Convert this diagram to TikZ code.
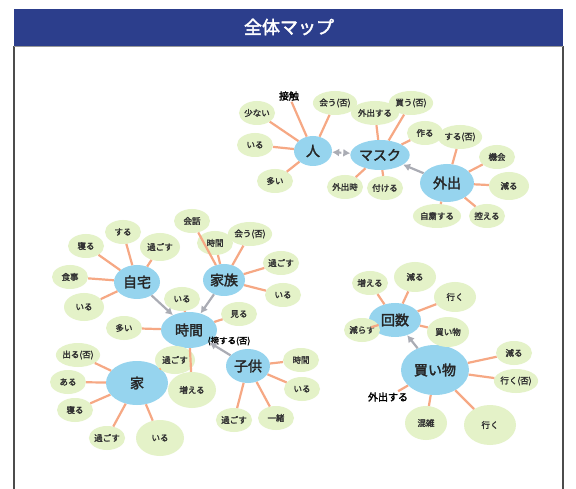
\documentclass[tikz,border=0pt]{standalone}
\usepackage{fontspec}
\setmainfont{Noto Sans CJK JP}[AutoFakeBold=2.2]
\usetikzlibrary{shapes.geometric,arrows.meta}
\definecolor{hubc}{RGB}{150,212,238}
\definecolor{leafc}{RGB}{228,242,200}
\definecolor{edgec}{RGB}{246,168,132}
\definecolor{arrc}{RGB}{170,172,180}
\definecolor{hdrc}{RGB}{44,62,140}
\tikzset{
 hubnode/.style={ellipse,fill=hubc,inner sep=0pt,text=black!85,font=\bfseries\fontsize{14}{14}\selectfont},
 leafnode/.style={ellipse,fill=leafc,inner sep=0pt,minimum width=36,minimum height=24,text=black!80,font=\bfseries\fontsize{8.5}{8.5}\selectfont},
 plainnode/.style={inner sep=1pt,font=\bfseries\fontsize{10}{10}\selectfont},
 link/.style={draw=edgec,line width=2.2},
 rel/.style={draw=arrc,line width=2.2,-{Latex[length=7,width=8]}},
}
\begin{document}
\begin{tikzpicture}[x=1pt,y=-1pt]
\useasboundingbox (0,0) rectangle (576,489);
\fill[white] (0,0) rectangle (576,489);
% frame
\fill[hdrc] (14,9) rectangle (563,46);
\node[text=white,font=\bfseries\fontsize{18}{18}\selectfont] (title) at (289,27) {全体マップ};
\draw[black!70,line width=1.2] (14,46) -- (14,489) (563,46) -- (563,489);
\draw[black!40,line width=0.6] (14,46) -- (563,46);

% hubs
\node[hubnode,minimum width=38,minimum height=30] (hito) at (313,151) {人};
\node[hubnode,minimum width=52,minimum height=30] (mask) at (380,155) {マスク};
\node[hubnode,minimum width=54,minimum height=38] (gaishutsu) at (447,183) {外出};
\node[hubnode,minimum width=46,minimum height=34] (jitaku) at (137,282) {自宅};
\node[hubnode,minimum width=42,minimum height=32] (kazoku) at (224,280) {家族};
\node[hubnode,minimum width=56,minimum height=36] (jikan) at (189,330) {時間};
\node[hubnode,minimum width=44,minimum height=34] (kodomo) at (248,366) {子供};
\node[hubnode,minimum width=62,minimum height=44] (ie) at (137,383) {家};
\node[hubnode,minimum width=52,minimum height=34] (kaisu) at (395,320) {回数};
\node[hubnode,minimum width=68,minimum height=50] (kaimono) at (435,370) {買い物};

% leaves: 人
\node[plainnode] (h1) at (289,96) {接触};
\node[leafnode] (h2) at (335,103) {会う(否)};
\node[leafnode] (h3) at (257,113) {少ない};
\node[leafnode] (h4) at (255,145) {いる};
\node[leafnode] (h5) at (275,181) {多い};
% マスク
\node[leafnode] (m1) at (375,113) {外出する};
\node[leafnode] (m2) at (411,103) {買う(否)};
\node[leafnode] (m3) at (425,133) {作る};
\node[leafnode] (m4) at (345,187) {外出時};
\node[leafnode] (m5) at (385,188) {付ける};
% 外出
\node[leafnode] (g1) at (460,137) {する(否)};
\node[leafnode] (g2) at (497,157) {機会};
\node[leafnode,minimum width=40,minimum height=28] (g3) at (509,186) {減る};
\node[leafnode] (g4) at (487,216) {控える};
\node[leafnode] (g5) at (437,216) {自粛する};
% 自宅
\node[leafnode] (j1) at (123,232) {する};
\node[leafnode,minimum width=40,minimum height=28] (j2) at (160,247) {過ごす};
\node[leafnode] (j3) at (86,246) {寝る};
\node[leafnode] (j4) at (70,277) {食事};
\node[leafnode,minimum width=40,minimum height=28] (j5) at (84,307) {いる};
% 家族
\node[leafnode] (k1) at (192,221) {会話};
\node[leafnode] (k2) at (215,243) {時間};
\node[leafnode] (k3) at (250,234) {会う(否)};
\node[leafnode] (k4) at (281,263) {過ごす};
\node[leafnode] (k5) at (283,295) {いる};
% 時間
\node[leafnode] (t1) at (182,299) {いる};
\node[leafnode] (t2) at (124,328) {多い};
\node[leafnode] (t3) at (239,314) {見る};
\node[leafnode,minimum width=48,minimum height=36] (t4) at (192,390) {増える};
% 子供
\node[plainnode,font=\bfseries\fontsize{8.5}{8.5}\selectfont] (c0) at (229,341) {(接する(否)};
\node[leafnode] (c1) at (301,360) {時間};
\node[leafnode] (c2) at (302,389) {いる};
\node[leafnode] (c3) at (276,418) {一緒};
\node[leafnode] (c4) at (234,420) {過ごす};
% 家
\node[leafnode] (i1) at (78,355) {出る(否)};
\node[leafnode] (i2) at (68,382) {ある};
\node[leafnode] (i3) at (75,410) {寝る};
\node[leafnode] (i4) at (107,438) {過ごす};
\node[leafnode,minimum width=48,minimum height=36] (i5) at (160,438) {いる};
\node[leafnode,minimum width=40,minimum height=28] (i6) at (175,360) {過ごす};
% 回数
\node[leafnode] (s1) at (370,283) {増える};
\node[leafnode,minimum width=42,minimum height=30] (s2) at (415,277) {減る};
\node[leafnode,minimum width=42,minimum height=30] (s3) at (455,297) {行く};
\node[leafnode,minimum width=42,minimum height=30] (s4) at (448,332) {買い物};
\node[leafnode] (s5) at (362,330) {減らす};
% 買い物
\node[leafnode] (b1) at (514,353) {減る};
\node[leafnode] (b2) at (516,381) {行く(否)};
\node[leafnode,minimum width=52,minimum height=40] (b3) at (490,425) {行く};
\node[leafnode,minimum width=42,minimum height=34] (b4) at (426,423) {混雑};
\node[plainnode] (b5) at (388,397) {外出する};

% links
\foreach \a in {h1,h2,h3,h4,h5} \draw[link] (hito) -- (\a);
\foreach \a in {m1,m2,m3,m4,m5} \draw[link] (mask) -- (\a);
\foreach \a in {g1,g2,g3,g4,g5} \draw[link] (gaishutsu) -- (\a);
\foreach \a in {j1,j2,j3,j4,j5} \draw[link] (jitaku) -- (\a);
\foreach \a in {k1,k2,k3,k4,k5} \draw[link] (kazoku) -- (\a);
\foreach \a in {t1,t2,t3,t4} \draw[link] (jikan) -- (\a);
\foreach \a in {c1,c2,c3,c4} \draw[link] (kodomo) -- (\a);
\foreach \a in {i1,i2,i3,i4,i5,i6} \draw[link] (ie) -- (\a);
\foreach \a in {s1,s2,s3,s4,s5} \draw[link] (kaisu) -- (\a);
\foreach \a in {b1,b2,b3,b4,b5} \draw[link] (kaimono) -- (\a);

% relations
\draw[rel,{Latex[length=7,width=8]}-{Latex[length=7,width=8]},dashed] (hito) -- (mask);
\draw[rel] (gaishutsu) -- (mask);
\draw[rel] (jitaku) -- (jikan);
\draw[rel] (kazoku) -- (jikan);
\draw[rel] (kodomo) -- (jikan);
\draw[rel] (kaimono) -- (kaisu);
\end{tikzpicture}
\end{document}
